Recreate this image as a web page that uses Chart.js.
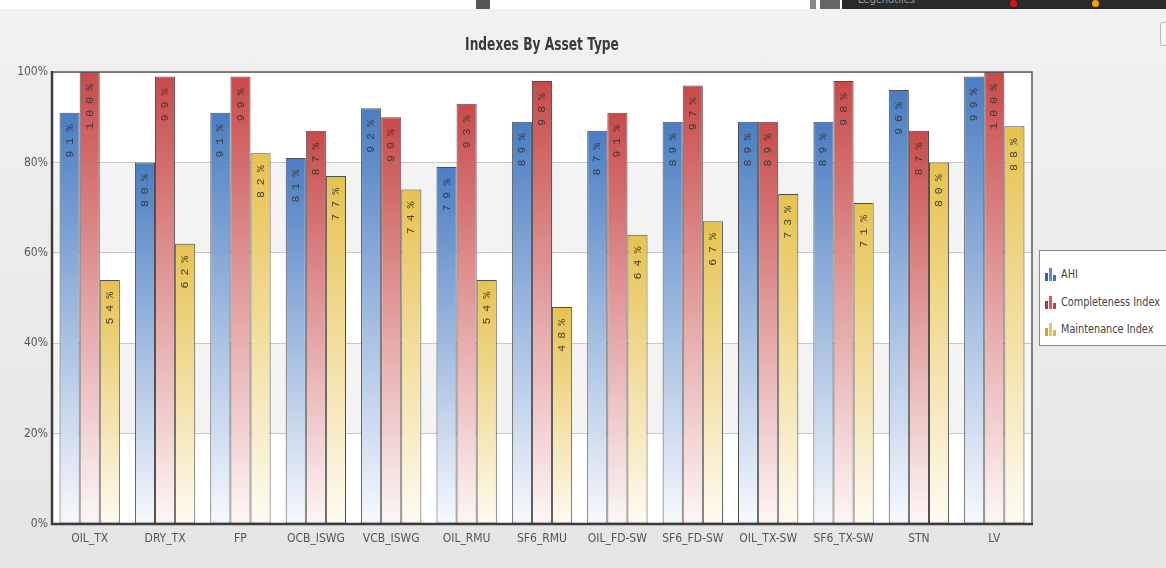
<!DOCTYPE html>
<html>
<head>
<meta charset="utf-8">
<script src="https://cdn.jsdelivr.net/npm/chart.js@4.4.0/dist/chart.umd.min.js"></script>
<style>
  html, body { margin: 0; padding: 0; }
  body { width: 1166px; height: 568px; overflow: hidden; position: relative;
         background: linear-gradient(#f2f2f2, #e5e5e5); font-family: 'DejaVu Sans Condensed', 'DejaVu Sans', sans-serif; font-stretch: condensed; }
  #strip { position: absolute; left: 0; top: 0; width: 1166px; height: 9px; background: #fff; overflow: hidden; }
  #strip div { position: absolute; top: 0; height: 9px; }
  #wrap { position: absolute; left: 0; top: 9px; width: 1166px; height: 559px; }
  #title { position: absolute; left: 342px; width: 400px; top: 34px; text-align: center; font-size: 17px; font-weight: bold;
           color: #3a3a3a; transform: scaleX(0.8); transform-origin: center; line-height: 20px; white-space: nowrap; }
  #legend { position: absolute; left: 1039px; top: 250px; width: 140px; height: 96px; background: #fff;
            border: 1px solid #8a8a8a; box-sizing: border-box; overflow: hidden; }
  .li { position: absolute; left: 5px; height: 16px; font-size: 12px; color: #444; white-space: nowrap; line-height: 16px; }
  .ic { position: absolute; left: 0; top: 2px; width: 12px; height: 13px; }
  .ic span { position: absolute; bottom: 0; width: 3px; }
  .li .tx { position: absolute; left: 16px; top: 0; transform: scaleX(0.9); transform-origin: left center; }
  #btn { position: absolute; left: 1160px; top: 22px; width: 10px; height: 22px; border: 1px solid #bbb; border-radius: 2px; background: #f8f8f8; }
</style>
</head>
<body>
<div id="strip">
  <div style="left:476px;width:14px;background:#555;"></div>
  <div style="left:810px;width:6px;background:#888;"></div>
  <div style="left:820px;width:20px;background:#666;"></div>
  <div style="left:842px;width:324px;background:#2a2a2a;"></div>
  <div style="left:858px;top:-6px;height:12px;color:#9a9a9a;font-size:11px;line-height:12px;">Legendtiles</div>
  <div style="left:1010px;top:0;width:7px;height:7px;border-radius:50%;background:#e01010;"></div>
  <div style="left:1092px;top:0;width:7px;height:7px;border-radius:50%;background:#f0a000;"></div>
</div>
<div id="btn"></div>
<div id="wrap"><canvas id="c" width="1166" height="559"></canvas></div>
<div id="title"></div>
<div id="legend"></div>
<script>
const chartTitle = 'Indexes By Asset Type';
const categories = ['OIL_TX','DRY_TX','FP','OCB_ISWG','VCB_ISWG','OIL_RMU','SF6_RMU','OIL_FD-SW','SF6_FD-SW','OIL_TX-SW','SF6_TX-SW','STN','LV'];
const seriesNames = ['AHI','Completeness Index','Maintenance Index'];
const ahi          = [91, 80, 91, 81, 92, 79, 89, 87, 89, 89, 89, 96, 99];
const completeness = [100, 99, 99, 87, 90, 93, 98, 91, 97, 89, 98, 87, 100];
const maintenance  = [54, 62, 82, 77, 74, 54, 48, 64, 67, 73, 71, 80, 88];
const yTicks = [0, 20, 40, 60, 80, 100];

const topColors = ['#4a7dc2', '#c84b4b', '#e6c24f'];
const botColors = ['#f7f9fd', '#fdf6f6', '#fefbf2'];
const iconColors = [['#2f66b0','#5b8bd0','#3c72bf'], ['#b83333','#d65858','#c04040'], ['#d4a820','#e8c658','#dcb83a']];

document.getElementById('title').textContent = chartTitle;

function grad(i) {
  return function(ctx) {
    const chart = ctx.chart;
    if (ctx.type !== 'data' || !chart.chartArea) return topColors[i];
    const y = chart.scales.y;
    const t = y.getPixelForValue(ctx.raw);
    const b = y.getPixelForValue(0);
    const g = chart.ctx.createLinearGradient(0, t, 0, b);
    g.addColorStop(0, topColors[i]);
    g.addColorStop(1, botColors[i]);
    return g;
  };
}

const NARROW = "'DejaVu Sans Condensed', 'DejaVu Sans', sans-serif";

const bandsPlugin = {
  id: 'bands',
  beforeDraw(chart) {
    const {ctx, chartArea: a, scales: {y}} = chart;
    ctx.save();
    ctx.fillStyle = '#ffffff';
    ctx.fillRect(a.left, a.top, a.right - a.left, a.bottom - a.top);
    ctx.fillStyle = '#f3f3f3';
    for (let k = 1; k < yTicks.length - 1; k += 2) {
      const t = y.getPixelForValue(yTicks[k + 1]);
      const b = y.getPixelForValue(yTicks[k]);
      ctx.fillRect(a.left, t, a.right - a.left, b - t);
    }
    ctx.restore();
  }
};

const framePlugin = {
  id: 'frame',
  afterDatasetsDraw(chart) {
    const {ctx, chartArea: a} = chart;
    ctx.save();
    ctx.font = "11.5px 'Liberation Mono', 'DejaVu Sans Mono', monospace";
    ctx.fillStyle = 'rgba(50,50,50,0.9)';
    ctx.textBaseline = 'middle';
    ctx.textAlign = 'right';
    chart.data.datasets.forEach((ds, i) => {
      const meta = chart.getDatasetMeta(i);
      meta.data.forEach((bar, j) => {
        const label = String(ds.data[j]) + '%';
        ctx.save();
        ctx.translate(bar.x, bar.y + 12);
        ctx.rotate(-Math.PI / 2);
        let pos = 0;
        for (let k = label.length - 1; k >= 0; k--) {
          ctx.fillText(label[k], -pos, 0);
          pos += ctx.measureText(label[k]).width + 6;
        }
        ctx.restore();
      });
    });
    ctx.restore();
    ctx.save();
    ctx.strokeStyle = '#5a5a5a';
    ctx.lineWidth = 1.5;
    ctx.beginPath();
    ctx.moveTo(a.left, a.top); ctx.lineTo(a.right, a.top); ctx.lineTo(a.right, a.bottom);
    ctx.stroke();
    ctx.strokeStyle = '#3c3c3c';
    ctx.lineWidth = 2.5;
    ctx.beginPath();
    ctx.moveTo(a.left, a.top - 1); ctx.lineTo(a.left, a.bottom); ctx.lineTo(a.right + 1, a.bottom);
    ctx.stroke();
    ctx.restore();
  }
};

const datasets = [ahi, completeness, maintenance].map((arr, i) => ({
  label: seriesNames[i],
  data: arr,
  backgroundColor: grad(i),
  borderColor: '#4e4e4e',
  borderWidth: 1,
  borderSkipped: false,
  categoryPercentage: 0.8,
  barPercentage: 1.0
}));

new Chart(document.getElementById('c'), {
  type: 'bar',
  data: { labels: categories, datasets },
  options: {
    responsive: false,
    animation: false,
    layout: { padding: { left: 0, right: 134, top: 63, bottom: 0 } },
    plugins: {
      legend: { display: false },
      tooltip: { enabled: false },
      title: { display: false }
    },
    scales: {
      x: {
        grid: { display: false, drawTicks: false },
        border: { display: false },
        ticks: { color: '#555', font: { family: NARROW, size: 12, weight: 'condensed' }, padding: 8, maxRotation: 0, autoSkip: false },
        afterFit(s) { s.height = 44; }
      },
      y: {
        min: 0, max: 100,
        afterBuildTicks(s) { s.ticks = yTicks.map(v => ({ value: v })); },
        grid: { color: '#c8c8c8', lineWidth: 1, drawTicks: false },
        border: { display: false },
        ticks: { color: '#555', font: { family: NARROW, size: 12, weight: 'condensed' }, padding: 4, callback: v => v + '%' },
        afterFit(s) { s.width = 52; }
      }
    }
  },
  plugins: [bandsPlugin, framePlugin]
});

const lg = document.getElementById('legend');
seriesNames.forEach((name, i) => {
  const row = document.createElement('div');
  row.className = 'li';
  row.style.top = (15 + i * 27.5) + 'px';
  const ic = document.createElement('div');
  ic.className = 'ic';
  [[0, 8], [4, 13], [8, 6]].forEach(([l, h], k) => {
    const s = document.createElement('span');
    s.style.left = l + 'px'; s.style.height = h + 'px'; s.style.background = iconColors[i][k];
    ic.appendChild(s);
  });
  const tx = document.createElement('span');
  tx.className = 'tx';
  tx.textContent = name;
  row.appendChild(ic); row.appendChild(tx);
  lg.appendChild(row);
});
</script>
</body>
</html>
